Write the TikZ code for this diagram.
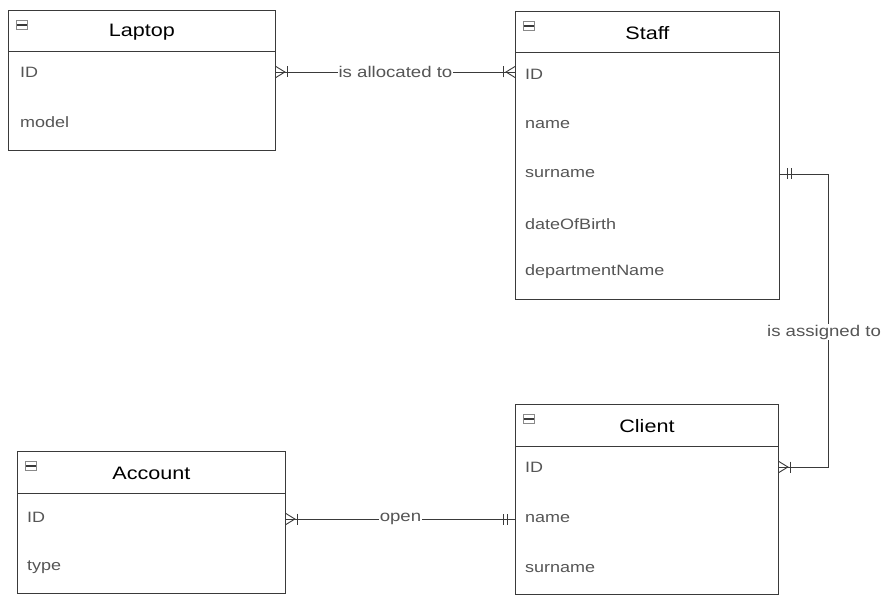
\documentclass[tikz,border=0pt]{standalone}
\usepackage{fontspec}
\setmainfont{Liberation Sans}[FakeStretch=1.2]
\definecolor{ln}{HTML}{3A3A3A}
\definecolor{attr}{HTML}{555555}
\newcommand{\erMany}[2]{\begin{scope}[shift={(#1)},rotate=#2]
  \draw[rel] (0,-5.5) -- (9,0) -- (0,5.5);
  \draw[rel] (11.5,-5.5) -- (11.5,5.5);
\end{scope}}
\newcommand{\erOne}[2]{\begin{scope}[shift={(#1)},rotate=#2]
  \draw[rel] (8,-5.5) -- (8,5.5);
  \draw[rel] (12,-5.5) -- (12,5.5);
\end{scope}}
\begin{document}
\begin{tikzpicture}[x=1pt,y=-1pt,
  box/.style={draw=ln,line width=0.9pt,anchor=north west,inner sep=0},
  ttl/.style={font=\fontsize{18}{21}\selectfont,text=black},
  attrib/.style={anchor=west,font=\fontsize{15}{18}\selectfont,text=attr,inner sep=0},
  rel/.style={draw=ln,line width=0.9pt},
  lbl/.style={fill=white,inner sep=1pt,font=\fontsize{15.5}{18}\selectfont,text=attr},
  icon/.style={draw=ln!60,line width=0.6pt,minimum width=11pt,minimum height=9pt,inner sep=0,
    path picture={\fill[ln] ([yshift=-1.2pt]path picture bounding box.west) rectangle ([yshift=1.2pt]path picture bounding box.east);}}]
\useasboundingbox (0,0) rectangle (883,596);

% Laptop
\node[box,minimum width=267,minimum height=140] (laptop) at (8,10) {};
\draw[rel] ([yshift=-41pt]laptop.north west) -- ([yshift=-41pt]laptop.north east);
\node[ttl] (laptopT) at ([yshift=-22pt]laptop.north) {Laptop};
\node[icon] (laptopI) at ([xshift=14pt,yshift=-15pt]laptop.north west) {};
\node[attrib] (lID) at (20,72) {ID};
\node[attrib] (lModel) at (20,122) {model};

% Staff
\node[box,minimum width=264,minimum height=288] (staff) at (515,11) {};
\draw[rel] ([yshift=-41pt]staff.north west) -- ([yshift=-41pt]staff.north east);
\node[ttl] (staffT) at ([yshift=-22pt]staff.north) {Staff};
\node[icon] (staffI) at ([xshift=14pt,yshift=-15pt]staff.north west) {};
\node[attrib] (sID) at (525,74) {ID};
\node[attrib] (sName) at (525,125) {name};
\node[attrib] (sSur) at (525,174) {surname};
\node[attrib] (sDob) at (525,224) {dateOfBirth};
\node[attrib] (sDep) at (525,272) {departmentName};

% Client
\node[box,minimum width=263,minimum height=190] (client) at (515,404) {};
\draw[rel] ([yshift=-42pt]client.north west) -- ([yshift=-42pt]client.north east);
\node[ttl] (clientT) at ([yshift=-22pt]client.north) {Client};
\node[icon] (clientI) at ([xshift=14pt,yshift=-15pt]client.north west) {};
\node[attrib] (cID) at (525,467) {ID};
\node[attrib] (cName) at (525,519) {name};
\node[attrib] (cSur) at (525,569) {surname};

% Account
\node[box,minimum width=268,minimum height=142] (account) at (17,451) {};
\draw[rel] ([yshift=-42pt]account.north west) -- ([yshift=-42pt]account.north east);
\node[ttl] (accountT) at ([yshift=-22pt]account.north) {Account};
\node[icon] (accountI) at ([xshift=14pt,yshift=-15pt]account.north west) {};
\node[attrib] (aID) at (27,517) {ID};
\node[attrib] (aType) at (27,567) {type};

% connection points
\coordinate (lapR) at (laptop.east |- lID);
\coordinate (stfL) at (staff.west |- lID);
\coordinate (stfS) at (staff.east |- sSur);
\coordinate (cliR) at (client.east |- cID);
\coordinate (accR) at (account.east |- cName);
\coordinate (cliL) at (client.west |- cName);
\coordinate (rt) at (828,0);

% relationships
\draw[rel] (lapR) -- node[lbl] {is allocated to} (stfL);
\erMany{lapR}{0}
\erMany{stfL}{180}

\draw[rel] (stfS) -- (stfS -| rt) -- node[lbl,pos=0.54,xshift=-4pt] {is assigned to} (cliR -| rt) -- (cliR);
\erOne{stfS}{0}
\erMany{cliR}{0}

\draw[rel] (accR) -- node[lbl] {open} (cliL);
\erMany{accR}{0}
\erOne{cliL}{180}
\end{tikzpicture}
\end{document}
